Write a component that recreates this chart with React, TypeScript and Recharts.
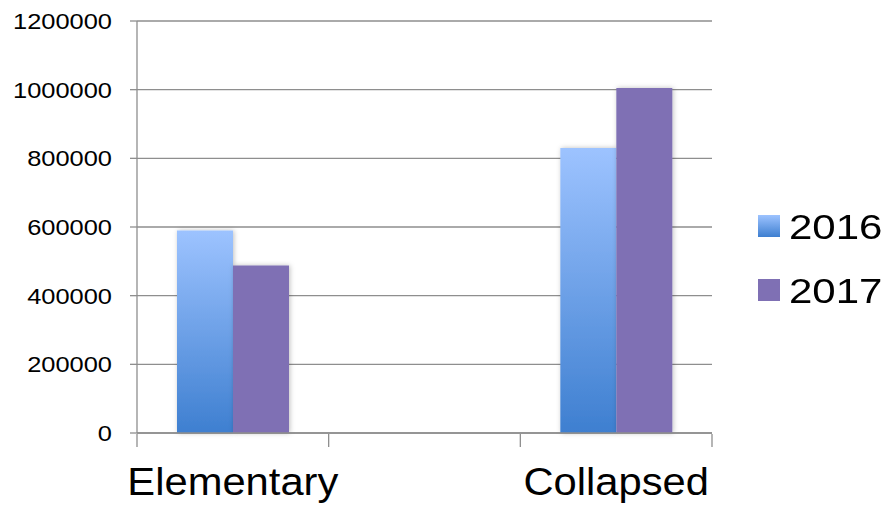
import React from "react";
import { BarChart, Bar, XAxis, YAxis, CartesianGrid, Legend } from "recharts";

const categories = ["Elementary", "", "Collapsed"];
const series2016 = [590000, null, 830000];
const series2017 = [488000, null, 1005000];
const yTicks = [0, 200000, 400000, 600000, 800000, 1000000, 1200000];
// category boundaries, in category-index units
const boundaryTicks = [-0.5, 0.5, 1.5, 2.5];

const data = categories.map((name, i) => ({
  name,
  y2016: series2016[i],
  y2017: series2017[i],
}));

const FONT = '"Liberation Sans", Arial, sans-serif';
const GRID = "#8e8e8e";

const YTick = (props: any) => {
  const { x, y, payload } = props;
  const fs = 22.3;
  return (
    <text
      transform={`translate(${x},${y + 0.358 * fs}) scale(1.14,1)`}
      textAnchor="end"
      fontSize={fs}
      fontFamily={FONT}
      fill="#000"
    >
      {payload.value}
    </text>
  );
};

const XTick = (props: any) => {
  const { x, y, payload } = props;
  const fs = 39;
  return (
    <text
      transform={`translate(${x},${y + 0.716 * fs}) scale(1.07,1)`}
      textAnchor="middle"
      fontSize={fs}
      fontFamily={FONT}
      fill="#000"
    >
      {payload.value}
    </text>
  );
};

const LegendContent = (props: any) => {
  const { payload } = props;
  return (
    <div style={{ fontFamily: FONT }}>
      {(payload || []).map((entry: any) => (
        <div
          key={entry.value}
          style={{ display: "flex", alignItems: "center", height: 64 }}
        >
          <div
            style={{
              width: 22,
              height: 22,
              marginRight: 9,
              background:
                entry.dataKey === "y2016"
                  ? "linear-gradient(#9dc3ff, #3e7fd0)"
                  : "#7f70b4",
            }}
          />
          <span
            style={{
              display: "inline-block",
              fontSize: 35,
              lineHeight: "1",
              color: "#000",
              transform: "scaleX(1.2)",
              transformOrigin: "left center",
            }}
          >
            {entry.value}
          </span>
        </div>
      ))}
    </div>
  );
};

export default function App() {
  return (
    <div style={{ position: "absolute", left: 0, top: 0, background: "#fff" }}>
      <BarChart
        width={886}
        height={506}
        data={data}
        margin={{ top: 21, right: 174, left: 0, bottom: 71 }}
        barCategoryGap={40}
        barGap={0}
      >
        <defs>
          <linearGradient id="g2016" x1="0" y1="0" x2="0" y2="1">
            <stop offset="0%" stopColor="#9dc3ff" />
            <stop offset="100%" stopColor="#3e7fd0" />
          </linearGradient>
          <filter id="shadow" x="-20%" y="-5%" width="140%" height="110%">
            <feDropShadow dx="1" dy="0" stdDeviation="2.5" floodColor="#000" floodOpacity="0.25" />
          </filter>
        </defs>
        <CartesianGrid
          vertical={false}
          stroke={GRID}
          strokeWidth={1.3}
          xAxisId={0}
          yAxisId={0}
        />
        <XAxis
          xAxisId={0}
          dataKey="name"
          type="category"
          interval={0}
          height={1}
          tickLine={false}
          tickSize={0}
          tickMargin={34}
          axisLine={{ stroke: GRID, strokeWidth: 1.3 }}
          tick={<XTick />}
        />
        <XAxis
          xAxisId={1}
          type="number"
          dataKey={(d: any) => categories.indexOf(d.name)}
          domain={[-0.5, 2.5]}
          ticks={boundaryTicks}
          interval={0}
          tick={() => null}
          axisLine={false}
          tickLine={{ stroke: GRID, strokeWidth: 1.3 }}
          tickSize={13}
          height={1}
          allowDataOverflow
        />
        <YAxis
          yAxisId={0}
          width={137}
          domain={[0, 1200000]}
          ticks={yTicks}
          interval={0}
          tickSize={7}
          tickMargin={18}
          axisLine={{ stroke: GRID, strokeWidth: 1.3 }}
          tickLine={{ stroke: GRID, strokeWidth: 1.3 }}
          tick={<YTick />}
        />
        <Legend
          layout="vertical"
          align="center"
          verticalAlign="middle"
          wrapperStyle={{ left: 758, top: 194, width: 128 }}
          content={<LegendContent />}
        />
        <Bar
          xAxisId={0}
          yAxisId={0}
          dataKey="y2016"
          name="2016"
          fill="url(#g2016)"
          filter="url(#shadow)"
          isAnimationActive={false}
        />
        <Bar
          xAxisId={0}
          yAxisId={0}
          dataKey="y2017"
          name="2017"
          fill="#7f70b4"
          filter="url(#shadow)"
          isAnimationActive={false}
        />
      </BarChart>
    </div>
  );
}
